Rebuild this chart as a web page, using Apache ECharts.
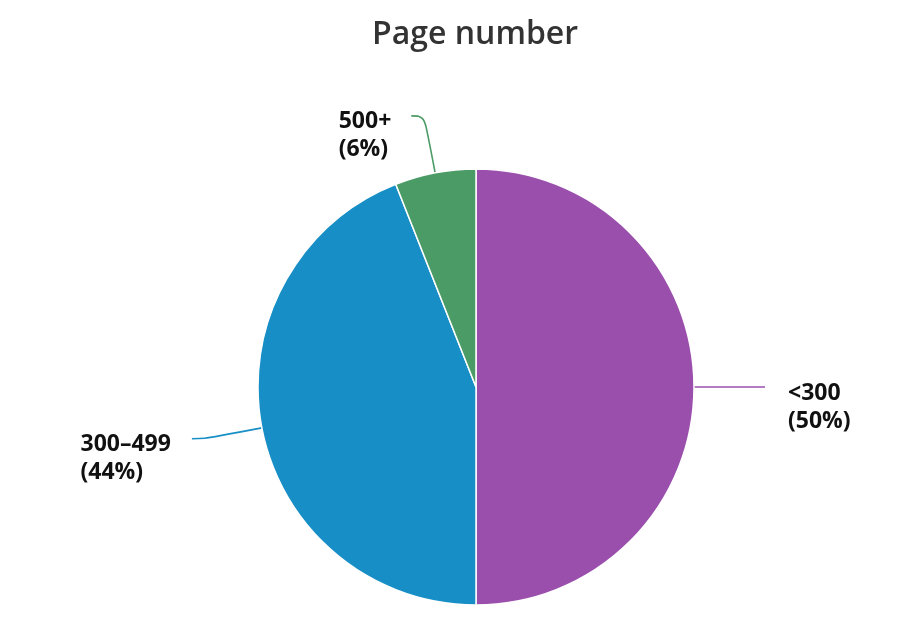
<!DOCTYPE html>
<html><head><meta charset="utf-8">
<script src="https://cdn.jsdelivr.net/npm/echarts@6/dist/echarts.min.js"></script>
<style>html,body{margin:0;padding:0;background:#fff}#c{width:914px;height:642px}</style>
</head><body><div id="c"></div>
<script>
const categories = ['<300', '300–499', '500+'];
const values = [50, 44, 6];
const colors = ['#9A4FAD', '#178FC6', '#4B9B66'];
const titleText = 'Page number';

const chart = echarts.init(document.getElementById('c'));
const data = categories.map((c, i) => ({
  name: c, value: values[i],
  itemStyle: { color: colors[i] },
  labelLine: { lineStyle: { color: colors[i] } },
  label: { padding: i === 0 ? [40, 0, 0, 18] : [40, i === 1 ? 16 : 15, 0, 0] }
}));
chart.setOption({
  animation: false,
  title: {
    text: titleText, left: 367, top: 14,
    textStyle: { fontFamily: 'Open Sans', fontWeight: 600, fontSize: 32, color: '#333' }
  },
  series: [{
    type: 'pie',
    center: [476, 387],
    radius: 218,
    startAngle: 90,
    clockwise: true,
    avoidLabelOverlap: false,
    itemStyle: { borderColor: '#fff', borderWidth: 1.5 },
    label: {
      show: true,
      formatter: '{t|{b}}\n{t|({d}%)}',
      rich: { t: { align: 'left', fontFamily: 'Open Sans', fontWeight: 'bold', fontSize: 23, lineHeight: 28, color: '#111' } }
    },
    labelLine: { show: true, length: 58, length2: 13, smooth: 0.4, lineStyle: { width: 1.6 } },
    data: data
  }]
});
</script></body></html>
